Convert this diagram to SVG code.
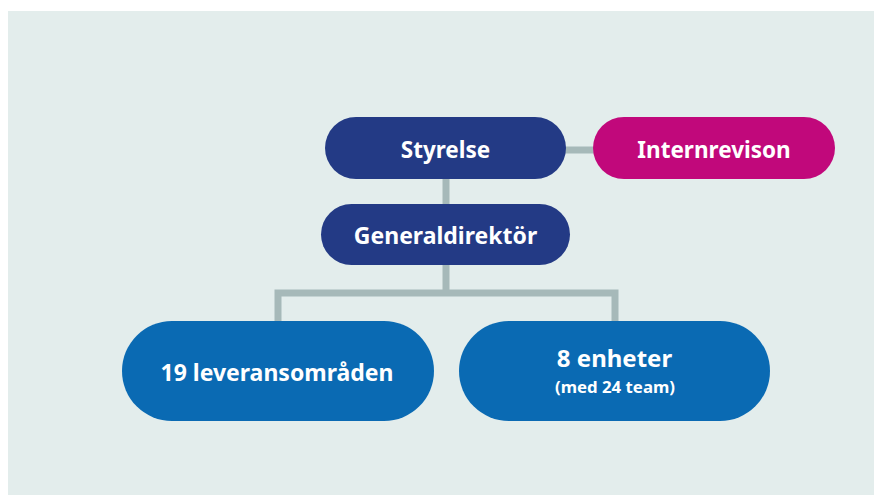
<svg xmlns="http://www.w3.org/2000/svg" width="874" height="495" viewBox="0 0 874 495">
<style>
.t{font-family:"Noto Sans","Liberation Sans",sans-serif;font-weight:700;fill:#fff;text-anchor:middle}
.navy{fill:#233A85}
.mag{fill:#C1087B}
.blue{fill:#0A6AB3}
.ln{stroke:#A6B9B9;stroke-width:7;fill:none}
</style>
<rect x="0" y="0" width="874" height="495" fill="#ffffff"/>
<rect x="8" y="11" width="866" height="484" fill="#E3EDEC"/>
<g id="connectors">
<line class="ln" x1="560" y1="150" x2="600" y2="150"/>
<line class="ln" x1="446" y1="175" x2="446" y2="208"/>
<polyline class="ln" points="446,262 446,293"/>
<polyline class="ln" points="278,325 278,293 615,293 615,325"/>
</g>
<g id="styrelse">
<rect class="navy" x="325" y="117" width="241" height="62" rx="31"/>
<text class="t" x="445.5" y="158" font-size="22.5">Styrelse</text>
</g>
<g id="internrevison">
<rect class="mag" x="593" y="117" width="242" height="62" rx="31"/>
<text class="t" x="714" y="158" font-size="22.5">Internrevison</text>
</g>
<g id="generaldirektor">
<rect class="navy" x="321" y="204" width="249" height="61" rx="30.5"/>
<text class="t" x="445.5" y="244" font-size="23">Generaldirektör</text>
</g>
<g id="leveransomraden">
<rect class="blue" x="122" y="321" width="312" height="100" rx="50"/>
<text class="t" x="277" y="381" font-size="23">19 leveransområden</text>
</g>
<g id="enheter">
<rect class="blue" x="459" y="321" width="311" height="100" rx="50"/>
<text class="t" x="614.5" y="367" font-size="24">8 enheter</text>
<text class="t" x="615" y="393" font-size="16.8">(med 24 team)</text>
</g>
</svg>
